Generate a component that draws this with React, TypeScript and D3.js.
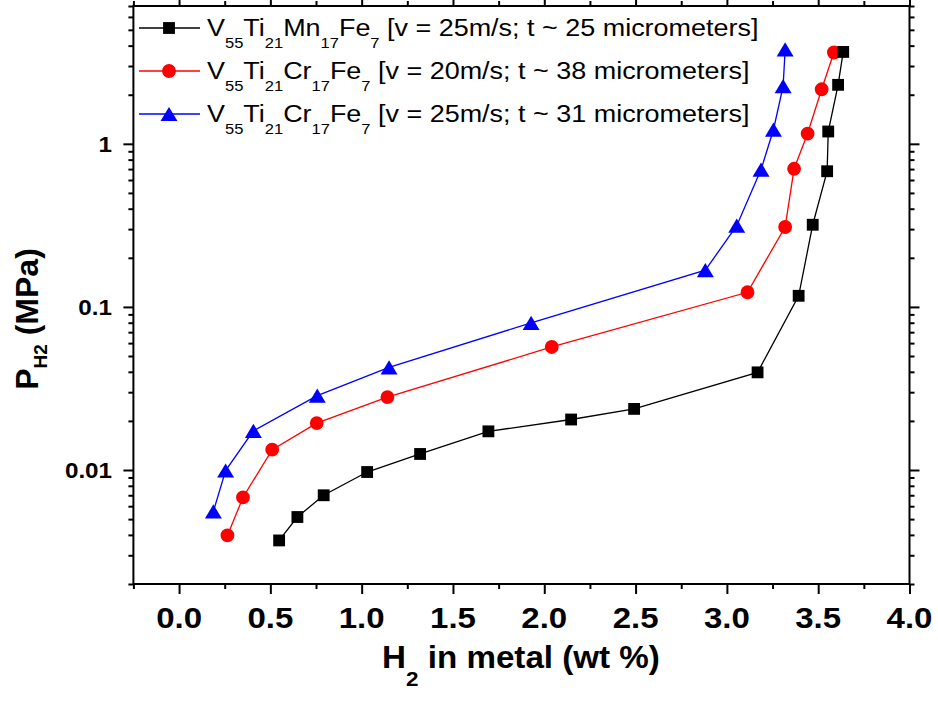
import React, { useEffect, useRef } from 'react';
import * as d3 from 'd3';

// V55Ti21Mn17Fe7, v = 25 m/s
const xMn = [0.548, 0.648, 0.792, 1.03, 1.32, 1.694, 2.147, 2.492, 3.168, 3.393, 3.47, 3.549, 3.555, 3.609, 3.637];
const pMn = [0.0037, 0.00515, 0.007, 0.00972, 0.01254, 0.01726, 0.0204, 0.0237, 0.0397, 0.117, 0.319, 0.679, 1.19, 2.3, 3.66];

// V55Ti21Cr17Fe7, v = 20 m/s
const xCr20 = [0.265, 0.35, 0.51, 0.754, 1.141, 2.041, 3.113, 3.319, 3.368, 3.442, 3.519, 3.586];
const pCr20 = [0.00397, 0.00679, 0.01333, 0.0194, 0.028, 0.0568, 0.123, 0.309, 0.703, 1.156, 2.16, 3.63];

// V55Ti21Cr17Fe7, v = 25 m/s
const xCr25 = [0.188, 0.255, 0.407, 0.757, 1.15, 1.928, 2.882, 3.054, 3.187, 3.255, 3.308, 3.319];
const pCr25 = [0.00557, 0.00993, 0.0174, 0.0286, 0.0426, 0.0798, 0.168, 0.315, 0.695, 1.22, 2.26, 3.79];

const xTicks = [0, 0.5, 1, 1.5, 2, 2.5, 3, 3.5, 4];
const xTickLabels = ['0.0', '0.5', '1.0', '1.5', '2.0', '2.5', '3.0', '3.5', '4.0'];
const yTicks = [0.01, 0.1, 1];
const yTickLabels = ['0.01', '0.1', '1'];

// legend formula pieces, alternating normal / subscript
const formulaMn = ['V', '55', 'Ti', '21', 'Mn', '17', 'Fe', '7'];
const formulaCr = ['V', '55', 'Ti', '21', 'Cr', '17', 'Fe', '7'];
const legendSuffix = [
  ' [v = 25m/s; t ~ 25 micrometers]',
  ' [v = 20m/s; t ~ 38 micrometers]',
  ' [v = 25m/s; t ~ 31 micrometers]',
];

const FONT = "'Liberation Sans', Arial, Helvetica, sans-serif";

// triangle centred on its bounding box
const triangleBox = {
  draw(context: any, size: number) {
    const w = Math.sqrt(size * 2.3);
    const h = w * 0.84;
    context.moveTo(0, -h / 2);
    context.lineTo(w / 2, h / 2);
    context.lineTo(-w / 2, h / 2);
    context.closePath();
  },
};

export default function App() {
  const ref = useRef<SVGSVGElement>(null);
  const width = 938;
  const height = 706;
  const plot = { Left: 133.4, Right: 909.5, Top: 6, Bottom: 584 };

  useEffect(() => {
    const svg = d3.select(ref.current);
    svg.selectAll('*').remove();

    const xScale = d3.scaleLinear().domain([-0.25, 4]).range([plot.Left, plot.Right]);
    const yScale = d3.scaleLog().domain([0.002, 7]).range([plot.Bottom, plot.Top]);

    const series = [
      { name: 'Mn', xs: xMn, ps: pMn, color: '#000000', symbol: d3.symbolSquare, size: 140 },
      { name: 'Cr20', xs: xCr20, ps: pCr20, color: '#ff0000', symbol: d3.symbolCircle, size: 150 },
      { name: 'Cr25', xs: xCr25, ps: pCr25, color: '#0000ff', symbol: triangleBox as any, size: 125 },
    ];

    // ------------ minor tick values -------------//
    const xMinor = d3.range(-0.25, 4, 0.5);
    const yMinor: number[] = [];
    [-3, -2, -1, 0].forEach((k) => {
      d3.range(2, 10).forEach((m) => {
        const v = m * Math.pow(10, k);
        if (v >= 0.002 && v <= 7.0001) yMinor.push(v);
      });
    });

    // ------------ axes (ticks only) -------------//
    const drawAxis = (gen: any, tx: number, ty: number) => {
      const g = svg.append('g').attr('transform', `translate(${tx},${ty})`).call(gen);
      g.select('.domain').remove();
      g.selectAll('.tick line').attr('stroke', '#000').attr('stroke-width', 2);
      g.selectAll('.tick text').remove();
    };

    drawAxis(d3.axisBottom(xScale).tickValues(xTicks).tickSize(10).tickSizeOuter(0), 0, plot.Bottom);
    drawAxis(d3.axisBottom(xScale).tickValues(xMinor).tickSize(5).tickSizeOuter(0), 0, plot.Bottom);
    drawAxis(d3.axisTop(xScale).tickValues(xTicks).tickSize(10).tickSizeOuter(0), 0, plot.Top);
    drawAxis(d3.axisTop(xScale).tickValues(xMinor).tickSize(5).tickSizeOuter(0), 0, plot.Top);
    drawAxis(d3.axisLeft(yScale).tickValues(yTicks).tickSize(10).tickSizeOuter(0), plot.Left, 0);
    drawAxis(d3.axisLeft(yScale).tickValues(yMinor).tickSize(5).tickSizeOuter(0), plot.Left, 0);
    drawAxis(d3.axisRight(yScale).tickValues(yTicks).tickSize(10).tickSizeOuter(0), plot.Right, 0);
    drawAxis(d3.axisRight(yScale).tickValues(yMinor).tickSize(5).tickSizeOuter(0), plot.Right, 0);

    // frame
    svg.append('rect')
      .attr('x', plot.Left)
      .attr('y', plot.Top)
      .attr('width', plot.Right - plot.Left)
      .attr('height', plot.Bottom - plot.Top)
      .attr('fill', 'none')
      .attr('stroke', '#000')
      .attr('stroke-width', 2);

    // ------------ tick labels -------------//
    svg.append('g')
      .selectAll('text')
      .data(xTicks)
      .join('text')
      .attr('transform', (d) => `translate(${xScale(d)},628) scale(1.1,1)`)
      .attr('text-anchor', 'middle')
      .attr('font-family', FONT)
      .attr('font-weight', 'bold')
      .attr('font-size', 30)
      .text((d, i) => xTickLabels[i]);

    svg.append('g')
      .selectAll('text')
      .data(yTicks)
      .join('text')
      .attr('transform', (d) => `translate(112,${yScale(d) + 7.8}) scale(1.1,1)`)
      .attr('text-anchor', 'end')
      .attr('font-family', FONT)
      .attr('font-weight', 'bold')
      .attr('font-size', 22)
      .text((d, i) => yTickLabels[i]);

    // ------------ axis titles -------------//
    const xTitle = svg.append('text')
      .attr('transform', 'translate(521,668) scale(1.07,1)')
      .attr('text-anchor', 'middle')
      .attr('font-family', FONT)
      .attr('font-weight', 'bold')
      .attr('font-size', 31);
    xTitle.append('tspan').text('H');
    xTitle.append('tspan').text('2').attr('font-size', 21).attr('dy', 18);
    xTitle.append('tspan').text(' in metal (wt %)').attr('dy', -18);

    const yTitle = svg.append('text')
      .attr('transform', 'translate(38,319) rotate(-90)')
      .attr('text-anchor', 'middle')
      .attr('font-family', FONT)
      .attr('font-weight', 'bold')
      .attr('font-size', 32);
    yTitle.append('tspan').text('P');
    yTitle.append('tspan').text('H2').attr('font-size', 19).attr('dy', 9);
    yTitle.append('tspan').text(' (MPa)').attr('dy', -9);

    // ------------ lines and markers -------------//
    // draw black last so its squares sit on top
    [series[2], series[1], series[0]].forEach((s) => {
      const pts = s.xs.map((xv, i) => [xScale(xv), yScale(s.ps[i])] as [number, number]);
      svg.append('path')
        .datum(pts)
        .attr('fill', 'none')
        .attr('stroke', s.color)
        .attr('stroke-width', 1.3)
        .attr('d', d3.line());

      svg.append('g')
        .selectAll('path')
        .data(pts)
        .join('path')
        .attr('transform', (d) => `translate(${d[0]},${d[1]})`)
        .attr('d', d3.symbol().type(s.symbol).size(s.size)())
        .attr('fill', s.color);
    });

    // ------------ legend -------------//
    const formulas = [formulaMn, formulaCr, formulaCr];
    series.forEach((s, i) => {
      const rowY = 28 + i * 43;
      svg.append('line')
        .attr('x1', 139)
        .attr('x2', 200)
        .attr('y1', rowY)
        .attr('y2', rowY)
        .attr('stroke', s.color)
        .attr('stroke-width', 1.3);
      svg.append('path')
        .attr('transform', `translate(169,${rowY})`)
        .attr('d', d3.symbol().type(s.symbol).size(s.size)())
        .attr('fill', s.color);

      const label = svg.append('text')
        .attr('transform', `translate(207,${rowY + 7.5}) scale(1.1,1)`)
        .attr('font-family', FONT)
        .attr('font-size', 24.5)
        .attr('fill', '#000');
      formulas[i].forEach((part, j) => {
        const t = label.append('tspan').text(part);
        if (j % 2 === 1) t.attr('font-size', 15).attr('dy', 12);
        else if (j > 0) t.attr('dy', -12);
      });
      label.append('tspan').text(legendSuffix[i]).attr('dy', -12);
    });
  }, []);

  return (
    <svg
      ref={ref}
      width={width}
      height={height}
      style={{ position: 'absolute', left: 0, top: 0, background: '#fff' }}
    />
  );
}
